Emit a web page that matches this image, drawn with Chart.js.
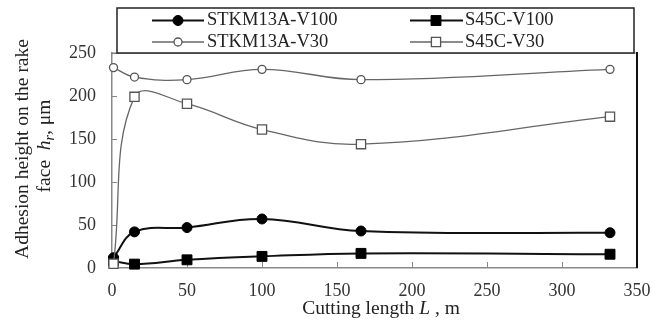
<!DOCTYPE html>
<html>
<head>
<meta charset="utf-8">
<script src="https://cdn.jsdelivr.net/npm/chart.js@4.4.1/dist/chart.umd.min.js"></script>
<style>
  html, body { margin: 0; padding: 0; background: #fff; }
  #wrap { width: 666px; height: 322px; position: relative; }
</style>
</head>
<body>
<div id="wrap"><canvas id="c" width="666" height="322"></canvas></div>
<script>
// ---- data ----
const cuttingLength = [1, 15, 50, 100, 166, 332];
const stkmV100 = [12, 42, 47, 57, 43, 41];
const s45cV100 = [8, 4.5, 9.5, 13.5, 17, 16];
const stkmV30 = [233, 222, 219, 231, 219, 231];
const s45cV30 = [5, 199, 191, 161, 144, 176];
const seriesLabels = ['STKM13A-V100', 'S45C-V100', 'STKM13A-V30', 'S45C-V30'];
const xTickValues = [0, 50, 100, 150, 200, 250, 300, 350];
const yTickValues = [0, 50, 100, 150, 200, 250];
const yTitleLine1 = 'Adhesion height on the rake';
const yTitleLine2 = [['face  ', 'n'], ['h', 'i'], ['r', 's'], [', \u03bcm', 'n']];
const xTitle = [['Cutting length ', 'n'], ['L', 'i'], [' , m', 'n']];

const FONT = '"Liberation Serif", "Times New Roman", serif';
const toPts = arr => arr.map((v, i) => ({ x: cuttingLength[i], y: v }));

const styles = [
  { color: '#111', width: 2, style: 'circle', r: 5, fill: '#000', order: 1 },
  { color: '#111', width: 2, style: 'rect', r: 7, fill: '#000', order: 3 },
  { color: '#666', width: 1.3, style: 'circle', r: 4, fill: '#fff', order: 2 },
  { color: '#666', width: 1.3, style: 'rect', r: 6.5, fill: '#fff', order: 0 }
];
const seriesData = [stkmV100, s45cV100, stkmV30, s45cV30];

const datasets = seriesData.map((d, i) => ({
  label: seriesLabels[i],
  data: toPts(d),
  borderColor: styles[i].color,
  borderWidth: styles[i].width,
  pointStyle: styles[i].style,
  pointRadius: styles[i].r,
  pointBackgroundColor: styles[i].fill,
  pointBorderColor: i < 2 ? '#000' : '#555',
  pointBorderWidth: i < 2 ? 1 : 1.3,
  tension: 0.4,
  fill: false,
  clip: false,
  order: styles[i].order
}));

function drawRich(ctx, parts, size, cx, cy) {
  const fontFor = t => t === 'i' ? `italic ${size}px ${FONT}` : (t === 's' ? `italic ${Math.round(size*0.7)}px ${FONT}` : `${size}px ${FONT}`);
  let total = 0;
  parts.forEach(p => { ctx.font = fontFor(p[1]); total += ctx.measureText(p[0]).width; });
  let x = cx - total / 2;
  ctx.textAlign = 'left';
  ctx.textBaseline = 'middle';
  parts.forEach(p => {
    ctx.font = fontFor(p[1]);
    ctx.fillText(p[0], x, p[1] === 's' ? cy + size * 0.25 : cy);
    x += ctx.measureText(p[0]).width;
  });
}

function marker(ctx, st, x, y, borderColor, bw) {
  ctx.save();
  ctx.fillStyle = st.fill;
  ctx.strokeStyle = borderColor;
  ctx.lineWidth = bw;
  ctx.beginPath();
  if (st.style === 'circle') {
    ctx.arc(x, y, st.r, 0, Math.PI * 2);
  } else {
    const s = Math.SQRT1_2 * st.r;
    ctx.rect(x - s, y - s, 2 * s, 2 * s);
  }
  ctx.fill();
  ctx.stroke();
  ctx.restore();
}

const decor = {
  id: 'decor',
  beforeDatasetsDraw(chart) {
    const { ctx, chartArea: a, scales } = chart;
    ctx.save();
    ctx.strokeStyle = '#888';
    ctx.lineWidth = 1;
    yTickValues.forEach(v => {
      const y = Math.round(scales.y.getPixelForValue(v)) + 0.5;
      ctx.beginPath(); ctx.moveTo(a.left, y); ctx.lineTo(a.left + 5, y); ctx.stroke();
    });
    xTickValues.forEach(v => {
      const x = Math.round(scales.x.getPixelForValue(v)) + 0.5;
      ctx.beginPath(); ctx.moveTo(x, a.bottom); ctx.lineTo(x, a.bottom - 6); ctx.stroke();
    });
    ctx.strokeStyle = '#777';
    ctx.lineWidth = 1.2;
    ctx.beginPath(); ctx.moveTo(a.left, a.top); ctx.lineTo(a.right, a.top); ctx.stroke();
    ctx.strokeStyle = '#111';
    ctx.lineWidth = 2;
    ctx.beginPath(); ctx.moveTo(a.right, a.top - 1); ctx.lineTo(a.right, a.bottom); ctx.stroke();
    ctx.restore();
  },
  afterDraw(chart) {
    const { ctx } = chart;
    ctx.save();
    ctx.fillStyle = '#222';
    ctx.save();
    ctx.translate(23, 149);
    ctx.rotate(-Math.PI / 2);
    drawRich(ctx, [[yTitleLine1, 'n']], 19.5, 0, 0);
    ctx.restore();
    ctx.save();
    ctx.translate(45, 146);
    ctx.rotate(-Math.PI / 2);
    drawRich(ctx, yTitleLine2, 19.5, 0, 0);
    ctx.restore();
    drawRich(ctx, xTitle, 19.5, 381, 309);

    const L = 117, T = 8, R = 634, B = 53;
    ctx.fillStyle = '#fff';
    ctx.fillRect(L, T, R - L, B - T);
    ctx.strokeStyle = '#222';
    ctx.lineWidth = 1.5;
    ctx.strokeRect(L, T, R - L, B - T);
    const cols = [{ l0: 152, l1: 204, m: 178, t: 207 }, { l0: 410, l1: 463, m: 436, t: 465 }];
    const rows = [20.5, 42];
    chart.data.datasets.forEach((ds, i) => {
      const c = cols[i % 2], y = rows[Math.floor(i / 2)];
      const st = styles[i];
      ctx.strokeStyle = st.color;
      ctx.lineWidth = st.width;
      ctx.beginPath(); ctx.moveTo(c.l0, y); ctx.lineTo(c.l1, y); ctx.stroke();
      marker(ctx, st, c.m, y, ds.pointBorderColor, ds.pointBorderWidth);
      ctx.fillStyle = '#222';
      ctx.font = `18.5px ${FONT}`;
      ctx.textAlign = 'left';
      ctx.textBaseline = 'middle';
      ctx.fillText(ds.label, c.t, y);
    });
    ctx.restore();
  }
};

new Chart(document.getElementById('c'), {
  type: 'line',
  data: { datasets },
  options: {
    responsive: false,
    animation: false,
    devicePixelRatio: 1,
    layout: { padding: { left: 0, right: 29, top: 53, bottom: 0 } },
    plugins: { legend: { display: false }, tooltip: { enabled: false }, title: { display: false } },
    scales: {
      x: {
        type: 'linear',
        min: 0, max: 350,
        afterBuildTicks: s => { s.ticks = xTickValues.map(v => ({ value: v })); },
        afterFit: s => { s.height = 54; },
        grid: { drawOnChartArea: false, drawTicks: false },
        border: { color: '#888', width: 1.5 },
        ticks: { padding: 12, color: '#333', font: { family: FONT, size: 18 } }
      },
      y: {
        type: 'linear',
        min: 0, max: 250,
        afterBuildTicks: s => { s.ticks = yTickValues.map(v => ({ value: v })); },
        afterFit: s => { s.width = 112; },
        grid: { drawOnChartArea: false, drawTicks: false },
        border: { color: '#888', width: 1.5 },
        ticks: { padding: 16, color: '#333', font: { family: FONT, size: 18 } }
      }
    }
  },
  plugins: [decor]
});
</script>
</body>
</html>
